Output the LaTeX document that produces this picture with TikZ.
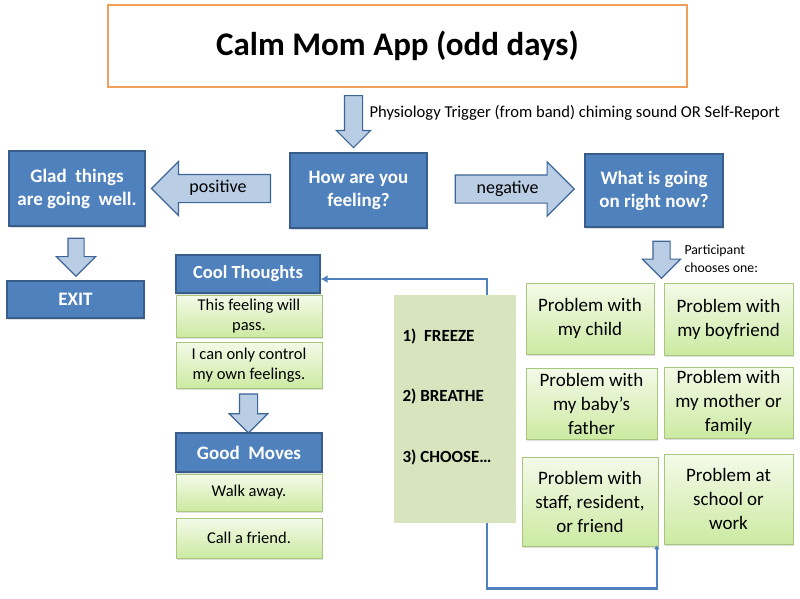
\documentclass[tikz,border=0pt]{standalone}
\usepackage{fontspec}
\setmainfont{Carlito}
\usetikzlibrary{shapes.arrows,arrows.meta,shadows,positioning,calc}

\definecolor{boxblue}{HTML}{4F81BD}
\definecolor{boxline}{HTML}{385D8A}
\definecolor{arrowfill}{HTML}{B9CDE5}
\definecolor{arrowline}{HTML}{3D6596}
\definecolor{greentop}{HTML}{F4FAE9}
\definecolor{greenbot}{HTML}{CCEAA2}
\definecolor{greenline}{HTML}{A9C67E}
\definecolor{stepsfill}{HTML}{D7E4BD}
\definecolor{titleline}{HTML}{F0A05A}
\definecolor{linkblue}{HTML}{4F81BD}

\tikzset{
  fsize/.style 2 args={font=\fontsize{#1}{#2}\selectfont},
  bluebox/.style={draw=boxline,fill=boxblue,line width=1.2pt,text=white,
    align=center,inner sep=2pt,
    font=\bfseries\fontsize{19}{23}\selectfont,
    drop shadow={shadow xshift=1pt,shadow yshift=-1.5pt,opacity=.25}},
  greenbox/.style={draw=greenline,line width=.6pt,top color=greentop,
    bottom color=greenbot,align=center,inner sep=2pt,
    font=\fontsize{19}{24}\selectfont,
    drop shadow={shadow xshift=1pt,shadow yshift=-1.5pt,opacity=.25}},
  smallgreen/.style={greenbox,minimum width=146pt,
    font=\fontsize{16.5}{20}\selectfont},
  sidearrow/.style={single arrow,draw=arrowline,fill=arrowfill,
    line width=1.2pt,single arrow head extend=13pt,inner ysep=5.5pt,
    text height=12pt,text depth=4pt,minimum height=119pt,
    font=\fontsize{18}{22}\selectfont},
  downarrow/.style={single arrow,draw=arrowline,fill=arrowfill,
    line width=1.2pt,shape border rotate=270,inner ysep=0pt,
    inner xsep=8pt,single arrow head extend=10.5pt,minimum height=38pt},
  link/.style={draw=linkblue,line width=2.5pt,
    {Circle[length=4pt]}-{Latex[length=7pt,width=8pt]}},
}

\begin{document}
\begin{tikzpicture}[x=1pt,y=-1pt]
\useasboundingbox (0,0) rectangle (800,598);

% title and trigger
\node[draw=titleline,fill=white,line width=1.8pt,minimum width=579pt,
  minimum height=82pt,font=\bfseries\fontsize{33}{36}\selectfont]
  (title) at (397.5,46) {Calm Mom App (odd days)};
\node[downarrow,single arrow head extend=8pt,minimum height=52pt,
  inner xsep=8.5pt,anchor=tail] (trig) at (353.5,95) {};
\node[anchor=west,fsize={16.6}{19}] (trigtext) at (366,113)
  {Physiology Trigger (from band) chiming sound OR Self-Report};

% first row
\node[bluebox,minimum width=137pt,minimum height=75pt] (how)
  at (358.5,190.5) {How are you\\feeling?};
\node[bluebox,minimum width=136pt,minimum height=75pt] (glad)
  at (77,188.5) {Glad\ \ things\\are going\ \ well.};
\node[bluebox,minimum width=138pt,minimum height=73pt] (what)
  at (654,190.5) {What is going\\on right now?};
\node[sidearrow,shape border rotate=180,anchor=tip] (pos)
  at ([xshift=5pt]glad.east) {positive};
\node[sidearrow,anchor=tail] (neg)
  at ([xshift=27pt,yshift=1.5pt]how.east) {negative};

% positive branch
\node[downarrow,inner xsep=7.5pt,single arrow head extend=11.5pt,
  anchor=tail] (gladdown) at ([xshift=-1pt,yshift=-11pt]glad.south) {};
\node[bluebox,minimum width=137pt,minimum height=37pt] (exit)
  at (75.5,299.5) {EXIT};

% cool thoughts and good moves
\node[bluebox,minimum width=144pt,minimum height=38pt,
  font=\bfseries\fontsize{18.5}{20}\selectfont] (cool) at (248,274)
  {Cool Thoughts};
\node[smallgreen,minimum height=42pt] (pass) at (249,316)
  {This feeling will\\pass.};
\node[smallgreen,minimum height=46pt] (control) at (249,365)
  {I can only control\\my own feelings.};
\node[downarrow,inner xsep=8.5pt,single arrow head extend=10pt,
  minimum height=39pt,anchor=tail] (cooldown)
  at ([xshift=-.5pt,yshift=-5pt]control.south) {};
\node[bluebox,minimum width=146pt,minimum height=39pt] (good)
  at (249,452.5) {Good\ \ Moves};
\node[smallgreen,minimum height=37pt] (walk) at (249,492.5) {Walk away.};
\node[smallgreen,minimum height=40pt] (call) at (249,538) {Call a friend.};

% participant choices
\node[downarrow,anchor=tail,minimum height=37pt] (whatdown)
  at ([xshift=7.5pt,yshift=-13pt]what.south) {};
\node[anchor=west,align=left,fsize={13.8}{18}] (choose) at (681,259)
  {Participant\\chooses one:};
\node[greenbox,minimum width=128pt,minimum height=71pt] (child)
  at (590,318.5) {Problem with\\my child};
\node[greenbox,minimum width=129pt,minimum height=72pt] (boyfriend)
  at (728.5,319) {Problem with\\my boyfriend};
\node[greenbox,minimum width=131pt,minimum height=71pt] (baby)
  at (591.5,403.5) {Problem with\\my baby’s\\father};
\node[greenbox,minimum width=129pt,minimum height=71pt] (mother)
  at (728.5,402.5) {Problem with\\my mother or\\family};
\node[greenbox,minimum width=136pt,minimum height=89pt] (staff)
  at (590,501.5) {Problem with\\staff, resident,\\or friend};
\node[greenbox,minimum width=129pt,minimum height=90pt] (school)
  at (728.5,499) {Problem at\\school or\\work};

% loop back to cool thoughts
\coordinate (turn) at (487,588);
\draw[link] ([xshift=-1.5pt]staff.south east) -- ++(0,42) -| (turn)
  |- ([yshift=-5pt]cool.east);

% the three steps
\node[fill=stepsfill,minimum width=122pt,minimum height=228pt] (steps)
  at (455,409) {};
\node[anchor=north west,align=left,
  font=\bfseries\fontsize{17}{60.5}\selectfont] (steplist)
  at (399,325) {1)\ \ FREEZE\\2) BREATHE\\3) CHOOSE…};

\end{tikzpicture}
\end{document}
